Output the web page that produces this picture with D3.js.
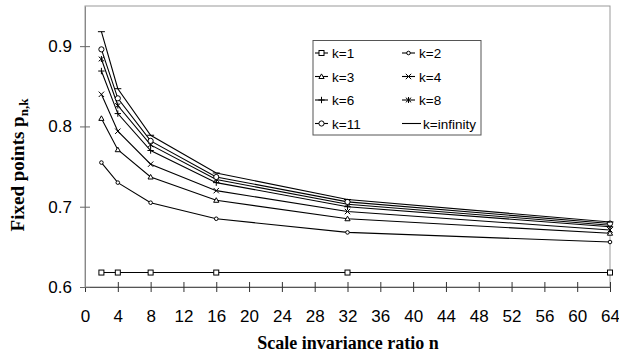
<!DOCTYPE html>
<html>
<head>
<meta charset="utf-8">
<script src="https://cdn.jsdelivr.net/npm/d3@7"></script>
<style>
  body { margin: 0; background: #fff; }
  svg { display: block; }
  .tick text { font-family: "Liberation Sans", Arial, sans-serif; }
</style>
</head>
<body>
<svg id="chart" width="619" height="358"></svg>
<script>
const ratios = [2, 4, 8, 16, 32, 64];
const seriesNames = ["k=1", "k=2", "k=3", "k=4", "k=6", "k=8", "k=11", "k=infinity"];
const markers = ["square", "diamond", "triangle", "cross", "plus", "star", "circle", "dash"];
const values = [
  [0.618, 0.618, 0.618, 0.618, 0.618, 0.618],
  [0.755, 0.730, 0.705, 0.685, 0.668, 0.656],
  [0.810, 0.771, 0.737, 0.708, 0.685, 0.667],
  [0.840, 0.794, 0.753, 0.720, 0.694, 0.671],
  [0.869, 0.816, 0.770, 0.730, 0.700, 0.675],
  [0.884, 0.826, 0.777, 0.734, 0.703, 0.677],
  [0.896, 0.835, 0.782, 0.737, 0.706, 0.679],
  [0.918, 0.847, 0.789, 0.742, 0.709, 0.681]
];
const xTicks = d3.range(0, 65, 4);
const yTicks = [0.6, 0.7, 0.8, 0.9];

const svg = d3.select("#chart");
const margin = {left: 85, top: 6, right: 9, bottom: 71};
const W = 619, H = 358;

const x = d3.scaleLinear().domain([0, 64]).range([margin.left, W - margin.right]);
const y = d3.scaleLinear().domain([0.6, 0.95]).range([H - margin.bottom, margin.top]);

// frame
svg.append("rect")
  .attr("x", x(0)).attr("y", y(0.95))
  .attr("width", x(64) - x(0)).attr("height", y(0.6) - y(0.95))
  .attr("fill", "none").attr("stroke", "#999").attr("stroke-width", 1);

const xAxis = svg.append("g")
  .attr("transform", `translate(0,${y(0.6)})`)
  .call(d3.axisBottom(x).tickValues(xTicks).tickSize(0).tickPadding(23));
xAxis.select(".domain").attr("stroke", "#555");
xAxis.selectAll(".tick line").attr("y1", -5).attr("y2", 5).attr("stroke", "#333");
xAxis.selectAll(".tick text").attr("font-size", 17).attr("fill", "#000");

const yAxis = svg.append("g")
  .attr("transform", `translate(${x(0)},0)`)
  .call(d3.axisLeft(y).tickValues(yTicks).tickFormat(d3.format(".1f")).tickSize(0).tickPadding(13));
yAxis.select(".domain").attr("stroke", "#888");
yAxis.selectAll(".tick line").attr("x1", -5).attr("x2", 5).attr("stroke", "#666");
yAxis.selectAll(".tick text").attr("font-size", 17).attr("fill", "#000");

const line = d3.line().x((d, i) => x(ratios[i])).y(d => y(d));

function drawMarker(g, type, cx, cy) {
  const s = g.append("g").attr("transform", `translate(${cx},${cy})`)
    .attr("fill", "#fff").attr("stroke", "#000").attr("stroke-width", 1);
  if (type === "square") s.append("rect").attr("x", -2.5).attr("y", -2.5).attr("width", 5).attr("height", 5);
  else if (type === "diamond") s.append("circle").attr("r", 1.8);
  else if (type === "triangle") s.append("path").attr("d", "M0,-2.6L2.6,2L-2.6,2Z");
  else if (type === "cross") s.append("path").attr("d", "M-2.7,-2.7L2.7,2.7M-2.7,2.7L2.7,-2.7");
  else if (type === "plus") s.append("path").attr("d", "M-3.2,0L3.2,0M0,-3.2L0,3.2");
  else if (type === "star") s.append("path").attr("d", "M-2.7,-2.3L2.7,2.3M-2.7,2.3L2.7,-2.3M0,-3L0,3");
  else if (type === "circle") s.append("circle").attr("r", 2.6);
  else if (type === "dash") s.append("path").attr("d", "M-3.5,0L3.5,0");
}

values.forEach((vals, si) => {
  svg.append("path").datum(vals).attr("d", line)
    .attr("fill", "none").attr("stroke", "#000").attr("stroke-width", 1.1);
  const g = svg.append("g");
  vals.forEach((v, i) => drawMarker(g, markers[si], x(ratios[i]), y(v)));
});

// legend
const lg = svg.append("g");
lg.append("rect").attr("x", 313).attr("y", 40.5).attr("width", 168).attr("height", 94.5)
  .attr("fill", "#fff").attr("stroke", "#555").attr("stroke-width", 1);
seriesNames.forEach((name, i) => {
  const col = i % 2, row = Math.floor(i / 2);
  const lx = 315 + col * 87, ly = 53 + row * 23.5;
  lg.append("line").attr("x1", lx).attr("x2", lx + (markers[i] === "dash" ? 19 : 13)).attr("y1", ly).attr("y2", ly)
    .attr("stroke", "#000").attr("stroke-width", 1.1);
  if (markers[i] !== "dash") drawMarker(lg, markers[i], lx + 6.5, ly);
  lg.append("text").attr("x", lx + (markers[i] === "dash" ? 21 : 17)).attr("y", ly + 5)
    .attr("font-family", "Liberation Sans, Arial, sans-serif").attr("font-size", 13.5)
    .text(name);
});

// axis titles
svg.append("text")
  .attr("x", 348).attr("y", 349)
  .attr("text-anchor", "middle")
  .attr("font-family", "Liberation Serif, Times New Roman, serif")
  .attr("font-weight", "bold").attr("font-size", 18)
  .text("Scale invariance ratio n");

const yt = svg.append("text")
  .attr("transform", `translate(24,165) rotate(-90)`)
  .attr("text-anchor", "middle")
  .attr("font-family", "Liberation Serif, Times New Roman, serif")
  .attr("font-weight", "bold").attr("font-size", 19);
yt.append("tspan").text("Fixed points p");
yt.append("tspan").attr("font-size", 13).attr("dy", 4).text("n,k");
</script>
</body>
</html>
